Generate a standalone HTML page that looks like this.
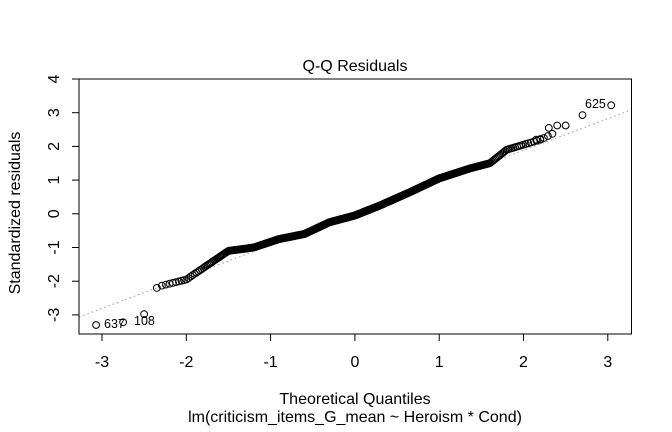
<!DOCTYPE html>
<html><head><meta charset="utf-8"><style>
body{margin:0;background:#fff}
svg{display:block;font-family:"Liberation Sans",Arial,sans-serif}
</style></head><body>
<svg id="s" width="672" height="432" xmlns="http://www.w3.org/2000/svg">
<rect width="672" height="432" fill="#fff"/>
<line x1="79" y1="317" x2="631" y2="110" stroke="#999" stroke-width="1" stroke-dasharray="1.5,3"/>
<g id="pts" fill="none" stroke="#000" stroke-width="1"></g>
<rect x="79" y="79" width="552.5" height="255" fill="none" stroke="#000" stroke-width="1"/>
<g stroke="#000">
<line x1="102" y1="334" x2="608" y2="334"/>
<line x1="102" y1="334" x2="102" y2="341"/><line x1="186.3" y1="334" x2="186.3" y2="341"/><line x1="270.6" y1="334" x2="270.6" y2="341"/><line x1="354.9" y1="334" x2="354.9" y2="341"/><line x1="439.2" y1="334" x2="439.2" y2="341"/><line x1="523.5" y1="334" x2="523.5" y2="341"/><line x1="607.8" y1="334" x2="607.8" y2="341"/>
<line x1="79" y1="79" x2="79" y2="314.7"/>
<line x1="72" y1="79" x2="79" y2="79"/><line x1="72" y1="112.7" x2="79" y2="112.7"/><line x1="72" y1="146.4" x2="79" y2="146.4"/><line x1="72" y1="180.1" x2="79" y2="180.1"/><line x1="72" y1="213.8" x2="79" y2="213.8"/><line x1="72" y1="247.5" x2="79" y2="247.5"/><line x1="72" y1="281.2" x2="79" y2="281.2"/><line x1="72" y1="314.9" x2="79" y2="314.9"/>
</g>
<g font-size="16" text-anchor="middle" fill="#000">
<text x="102" y="367">-3</text><text x="186.3" y="367">-2</text><text x="270.6" y="367">-1</text><text x="354.9" y="367">0</text><text x="439.2" y="367">1</text><text x="523.5" y="367">2</text><text x="607.8" y="367">3</text>
<g transform="translate(59,0)">
<text transform="translate(0,79) rotate(-90)">4</text>
<text transform="translate(0,112.7) rotate(-90)">3</text>
<text transform="translate(0,146.4) rotate(-90)">2</text>
<text transform="translate(0,180.1) rotate(-90)">1</text>
<text transform="translate(0,213.8) rotate(-90)">0</text>
<text transform="translate(0,247.5) rotate(-90)">-1</text>
<text transform="translate(0,281.2) rotate(-90)">-2</text>
<text transform="translate(0,314.9) rotate(-90)">-3</text>
</g>
<text x="355" y="71">Q-Q Residuals</text>
<text x="355" y="404">Theoretical Quantiles</text>
<text x="355" y="422">lm(criticism_items_G_mean ~ Heroism * Cond)</text>
<text transform="translate(20,213) rotate(-90)">Standardized residuals</text>
</g>
<g font-size="12.5" fill="#000">
<text x="104" y="328">637</text>
<text x="134" y="325">108</text>
<text x="585" y="108">625</text>
</g>
</svg>
<script>
function qn(p){var a=[-39.69683028665376,220.9460984245205,-275.9285104469687,138.357751867269,-30.66479806614716,2.506628277459239],b=[-54.47609879822406,161.5858368580409,-155.6989798598866,66.80131188771972,-13.28068155288572],c=[-0.007784894002430293,-0.3223964580411365,-2.400758560131402,-2.549732539343734,4.374664141464968,2.938163982698783],d=[0.007784695709041462,0.3224671290700398,2.445134137142996,3.754408661907416];var q,r;if(p<0.02425){q=Math.sqrt(-2*Math.log(p));return(((((c[0]*q+c[1])*q+c[2])*q+c[3])*q+c[4])*q+c[5])/((((d[0]*q+d[1])*q+d[2])*q+d[3])*q+1);}if(p>1-0.02425){q=Math.sqrt(-2*Math.log(1-p));return-(((((c[0]*q+c[1])*q+c[2])*q+c[3])*q+c[4])*q+c[5])/((((d[0]*q+d[1])*q+d[2])*q+d[3])*q+1);}q=p-0.5;r=q*q;return(((((a[0]*r+a[1])*r+a[2])*r+a[3])*r+a[4])*r+a[5])*q/(((((b[0]*r+b[1])*r+b[2])*r+b[3])*r+b[4])*r+1);}
var A=[[-3.1,-3.3],[-2.4,-2.2],[-2.0,-1.95],[-1.5,-1.1],[-1.2,-1.0],[-0.9,-0.75],[-0.6,-0.6],[-0.3,-0.25],[0,-0.05],[0.3,0.25],[0.66,0.65],[1.0,1.05],[1.37,1.35],[1.6,1.5],[1.8,1.9],[2.2,2.2],[3.1,3.3]];
function f(x){for(var i=0;i<A.length-1;i++){if(x<=A[i+1][0])return A[i][1]+(A[i+1][1]-A[i][1])*(x-A[i][0])/(A[i+1][0]-A[i][0]);}return A[A.length-1][1];}
var n=680,g=document.getElementById('pts'),h='';
function px(x){return 354.9+84.3*x}function py(y){return 213.8-33.7*y}
for(var i=7;i<n-6;i++){var x=qn((i+0.5)/n);h+='<circle cx="'+px(x).toFixed(1)+'" cy="'+py(f(x)).toFixed(1)+'" r="3.4"/>';}
var ex=[[-3.07,-3.3],[-2.75,-3.22],[-2.5,-2.98],[2.3,2.55],[2.4,2.62],[2.5,2.62],[2.7,2.93],[3.04,3.22],[-2.35,-2.2],[2.2,2.22],[2.15,2.2]];
ex.forEach(function(e){h+='<circle cx="'+px(e[0]).toFixed(1)+'" cy="'+py(e[1]).toFixed(1)+'" r="3.4"/>';});
g.innerHTML=h;
</script>
</body></html>
